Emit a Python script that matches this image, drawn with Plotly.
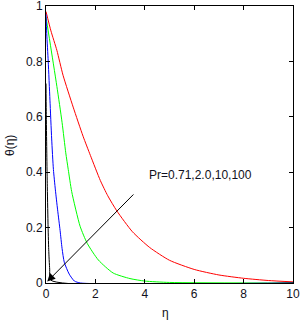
import plotly.graph_objects as go

# Data
eta_red = [0, 0.2, 0.44, 0.69, 1.1, 1.5, 1.8, 2.2, 2.5, 2.87, 3.5, 4.2, 5, 6, 7, 8, 9, 10]
theta_red = [0.98, 0.91, 0.84, 0.75, 0.635, 0.53, 0.46, 0.37, 0.315, 0.26, 0.185, 0.128, 0.082, 0.049, 0.029, 0.017, 0.009, 0.004]

eta_green = [0, 0.16, 0.44, 0.65, 0.8, 0.9, 1.04, 1.38, 1.67, 2.12, 2.72, 3.4, 4, 5, 10]
theta_green = [0.96, 0.87, 0.71, 0.58, 0.47, 0.41, 0.33, 0.205, 0.143, 0.083, 0.036, 0.016, 0.007, 0.002, 0]

eta_blue = [0, 0.03, 0.09, 0.16, 0.23, 0.3, 0.38, 0.47, 0.57, 0.65, 0.74, 0.94, 1.15, 1.4, 10]
theta_blue = [0.97, 0.9, 0.8, 0.66, 0.52, 0.41, 0.336, 0.264, 0.19, 0.125, 0.075, 0.032, 0.007, 0, 0]

eta_black = [0, 0.01, 0.03, 0.05, 0.08, 0.11, 0.15, 0.2, 10]
theta_black = [0.72, 0.62, 0.48, 0.36, 0.22, 0.12, 0.05, 0.01, 0]

x_ticks = [0, 2, 4, 6, 8, 10]
y_ticks = [0, 0.2, 0.4, 0.6, 0.8, 1]
y_ticklabels = ["0", "0.2", "0.4", "0.6", "0.8", "1"]
label_text = "Pr=0.71,2.0,10,100"

FONT = "Arial, Liberation Sans, sans-serif"
TXT = "#101020"

fig = go.Figure()
for xs, ys, col in [(eta_red, theta_red, "#ff0000"),
                    (eta_green, theta_green, "#00ff00"),
                    (eta_blue, theta_blue, "#0000ff"),
                    (eta_black, theta_black, "#000000")]:
    fig.add_trace(go.Scatter(x=xs, y=ys, mode="lines",
                             line=dict(color=col, width=1, shape="spline", smoothing=0.6),
                             showlegend=False))

axis_common = dict(showgrid=False, zeroline=False, showline=True, linecolor="black",
                   linewidth=1, mirror="ticks", ticks="inside", ticklen=4,
                   tickcolor="black", automargin=False, ticklabeloverflow="allow",
                   tickfont=dict(family=FONT, size=12, color=TXT))

fig.update_xaxes(range=[0, 10], tickvals=x_ticks, **axis_common)
fig.update_yaxes(range=[0, 1], tickvals=y_ticks, ticktext=y_ticklabels, **axis_common)

fig.add_annotation(x=0.05, y=0.005, ax=3.6, ay=0.325, xref="x", yref="y",
                   axref="x", ayref="y", text="", showarrow=True,
                   arrowhead=2, arrowsize=1.6, arrowwidth=1, arrowcolor="black")
fig.add_annotation(x=4.09, y=0.39, xref="x", yref="y", text=label_text,
                   showarrow=False, xanchor="left", yanchor="middle",
                   font=dict(family=FONT, size=12, color=TXT))
fig.add_annotation(x=-0.146, y=0.498, xref="paper", yref="paper", text="θ(η)",
                   showarrow=False, textangle=-90, xanchor="center", yanchor="middle",
                   font=dict(family=FONT, size=12, color=TXT))
fig.add_annotation(x=0.482, y=-0.108, xref="paper", yref="paper", text="η",
                   showarrow=False, xanchor="center", yanchor="middle",
                   font=dict(family=FONT, size=12, color=TXT))

fig.update_layout(width=304, height=323, margin=dict(l=46, r=11, t=6, b=40),
                  paper_bgcolor="white", plot_bgcolor="white")

fig.write_html("out.html", config={"displayModeBar": False},
               post_script="document.body.style.margin='0';document.body.style.overflow='hidden';")
